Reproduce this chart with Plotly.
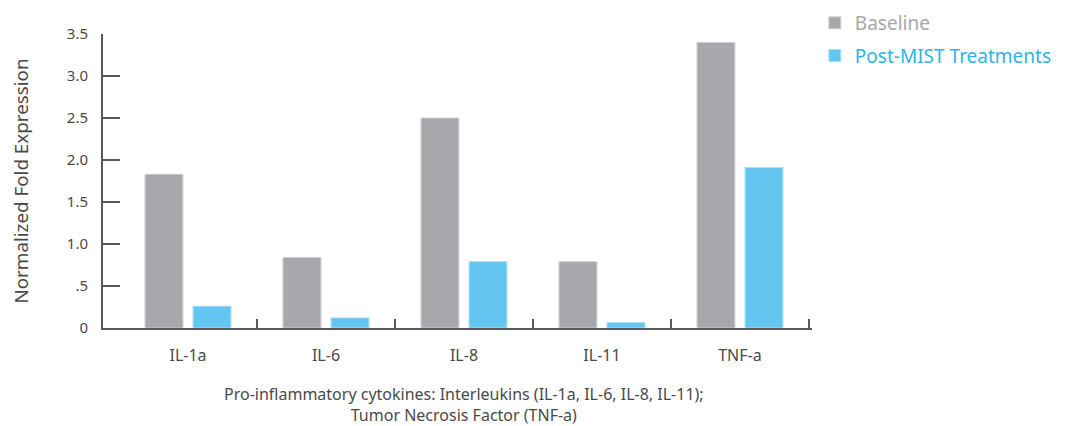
import plotly.graph_objects as go

categories = ["IL-1a", "IL-6", "IL-8", "IL-11", "TNF-a"]
baseline = [1.83, 0.84, 2.50, 0.79, 3.40]
post_mist = [0.26, 0.12, 0.79, 0.065, 1.91]
y_ticks = [0, 0.5, 1.0, 1.5, 2.0, 2.5, 3.0, 3.5]
y_tick_labels = ["0", ".5", "1.0", "1.5", "2.0", "2.5", "3.0", "3.5"]
x_title_lines = [
    "Pro-inflammatory cytokines: Interleukins (IL-1a, IL-6, IL-8, IL-11);",
    "Tumor Necrosis Factor (TNF-a)",
]

FONT = "Noto Sans"
AXIS = "#58595b"
TXT = "#4a4a4a"
GRAY = "#a7a8ac"
BLUE = "#63c6f0"
GRAY_TXT = "#a7a8ab"
BLUE_TXT = "#2bb5e8"

idx = list(range(len(categories)))
boundaries = [i + 0.5 for i in idx]

fig = go.Figure()
fig.add_trace(go.Bar(
    x=idx, y=baseline,
    name=f"<span style='color:{GRAY_TXT}'>Baseline</span>", legendgroup="a",
    marker=dict(color=GRAY, line=dict(color="#d0d1d3", width=1)),
))
fig.add_trace(go.Bar(
    x=idx, y=post_mist,
    name=f"<span style='color:{BLUE_TXT}'>Post-MIST Treatments</span>", legendgroup="b",
    marker=dict(color=BLUE, line=dict(color="#a9e0f7", width=1)),
))

# page body has an 8px margin, so the figure is 8px smaller and margins shifted
fig.update_layout(
    width=1057, height=418,
    margin=dict(l=95, r=253, t=26, b=97.5, autoexpand=False),
    paper_bgcolor="white", plot_bgcolor="white",
    barmode="group", bargap=0.304, bargroupgap=0.21,
    font=dict(family=FONT, color=TXT, size=15),
    showlegend=True,
    legend=dict(
        x=1.004, y=1.102, xanchor="left", yanchor="top",
        font=dict(size=19, family=FONT),
        traceorder="grouped", tracegroupgap=5,
        bgcolor="rgba(0,0,0,0)",
    ),
    xaxis=dict(
        range=[-0.616, 4.522], automargin=False,
        tickmode="array", tickvals=idx, ticktext=categories,
        showline=True, linecolor=AXIS, linewidth=2,
        ticks="",
        minor=dict(tickmode="array", tickvals=boundaries, ticks="inside", ticklen=9,
                   tickwidth=2, tickcolor=AXIS, showgrid=False),
        ticklabelstandoff=12, tickfont=dict(size=16, color=TXT),
        showgrid=False, zeroline=False,
    ),
    yaxis=dict(
        range=[0, 3.5], tickvals=y_ticks, ticktext=y_tick_labels, automargin=False,
        showline=True, linecolor=AXIS, linewidth=2,
        ticks="inside", ticklen=17, tickwidth=2, tickcolor=AXIS,
        ticklabelstandoff=10, tickfont=dict(size=15, color=TXT),
        showgrid=False, zeroline=False,
        title=dict(text="Normalized Fold Expression", font=dict(size=18.8, color=TXT), standoff=35),
    ),
    annotations=[dict(
        text="<br>".join(x_title_lines), xref="paper", yref="paper", x=0.509, y=-0.261,
        xanchor="center", yanchor="middle", showarrow=False, align="center",
        font=dict(size=16, color=TXT, family=FONT),
    )],
)

fig.write_html("out.html")
